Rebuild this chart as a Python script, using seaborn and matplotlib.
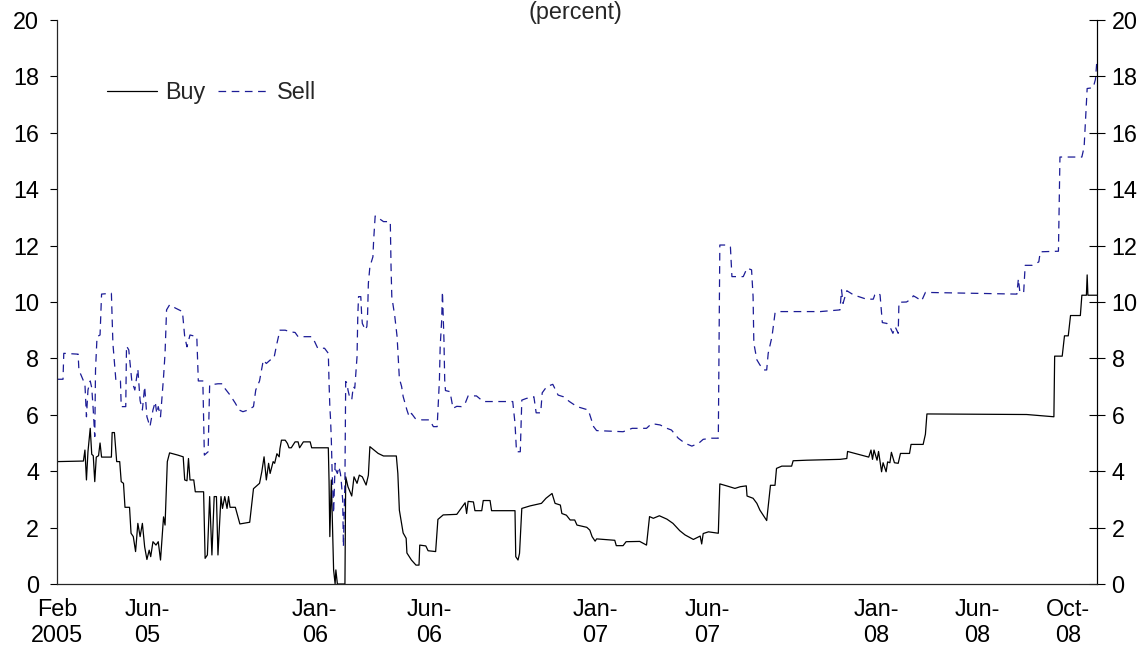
import pandas as pd
import matplotlib.pyplot as plt
import seaborn as sns

# values (percent)
buy_dates = [
    '2005-02-01', '2005-03-08', '2005-03-10', '2005-03-12', '2005-03-14', '2005-03-17', '2005-03-19',
    '2005-03-21', '2005-03-23', '2005-03-25', '2005-03-28', '2005-03-30', '2005-04-01', '2005-04-14',
    '2005-04-15', '2005-04-18', '2005-04-21', '2005-04-25', '2005-04-27', '2005-04-30', '2005-05-02',
    '2005-05-08', '2005-05-10', '2005-05-13', '2005-05-16', '2005-05-19', '2005-05-22', '2005-05-25',
    '2005-05-28', '2005-05-31', '2005-06-03', '2005-06-05', '2005-06-08', '2005-06-12', '2005-06-15',
    '2005-06-18', '2005-06-22', '2005-06-24', '2005-06-27', '2005-06-30', '2005-07-11', '2005-07-18',
    '2005-07-20', '2005-07-23', '2005-07-25', '2005-07-27', '2005-08-01', '2005-08-03', '2005-08-14',
    '2005-08-16', '2005-08-19', '2005-08-22', '2005-08-25', '2005-08-28', '2005-08-31', '2005-09-02',
    '2005-09-06', '2005-09-08', '2005-09-11', '2005-09-14', '2005-09-16', '2005-09-18', '2005-09-25',
    '2005-10-01', '2005-10-14', '2005-10-19', '2005-10-27', '2005-10-30', '2005-11-02', '2005-11-05',
    '2005-11-08', '2005-11-10', '2005-11-14', '2005-11-16', '2005-11-19', '2005-11-22', '2005-11-23',
    '2005-11-25', '2005-11-30', '2005-12-03', '2005-12-05', '2005-12-08', '2005-12-13', '2005-12-17',
    '2005-12-19', '2005-12-24', '2006-01-02', '2006-01-04', '2006-01-26', '2006-01-27', '2006-01-28',
    '2006-01-30', '2006-02-02', '2006-02-04', '2006-02-05', '2006-02-07', '2006-02-17', '2006-02-18',
    '2006-02-21', '2006-02-26', '2006-03-01', '2006-03-05', '2006-03-08', '2006-03-12', '2006-03-17',
    '2006-03-20', '2006-03-22', '2006-04-02', '2006-04-09', '2006-04-26', '2006-04-28', '2006-04-30',
    '2006-05-05', '2006-05-09', '2006-05-10', '2006-05-16', '2006-05-22', '2006-05-26', '2006-05-27',
    '2006-06-04', '2006-06-07', '2006-06-17', '2006-06-20', '2006-06-27', '2006-07-15', '2006-07-19',
    '2006-07-26', '2006-07-28', '2006-07-30', '2006-08-06', '2006-08-08', '2006-08-17', '2006-08-19',
    '2006-08-28', '2006-08-30', '2006-09-30', '2006-10-01', '2006-10-04', '2006-10-06', '2006-10-09',
    '2006-10-20', '2006-11-04', '2006-11-10', '2006-11-18', '2006-11-22', '2006-11-29', '2006-12-01',
    '2006-12-07', '2006-12-12', '2006-12-18', '2006-12-21', '2007-01-03', '2007-01-07', '2007-01-10',
    '2007-01-14', '2007-01-16', '2007-02-09', '2007-02-11', '2007-02-20', '2007-02-24', '2007-03-14',
    '2007-03-23', '2007-03-27', '2007-04-01', '2007-04-09', '2007-04-19', '2007-04-27', '2007-05-06',
    '2007-05-13', '2007-05-24', '2007-06-02', '2007-06-04', '2007-06-06', '2007-06-13', '2007-06-26',
    '2007-06-28', '2007-07-07', '2007-07-18', '2007-07-25', '2007-08-02', '2007-08-03', '2007-08-11',
    '2007-08-16', '2007-08-20', '2007-08-29', '2007-09-03', '2007-09-09', '2007-09-11', '2007-09-18',
    '2007-10-01', '2007-10-03', '2007-10-21', '2007-12-04', '2007-12-13', '2007-12-14', '2008-01-11',
    '2008-01-14', '2008-01-16', '2008-01-18', '2008-01-22', '2008-01-24', '2008-01-28', '2008-01-30',
    '2008-02-03', '2008-02-05', '2008-02-08', '2008-02-10', '2008-02-14', '2008-02-19', '2008-02-22',
    '2008-03-05', '2008-03-07', '2008-03-23', '2008-03-26', '2008-03-28', '2008-08-07', '2008-09-12',
    '2008-09-13', '2008-09-23', '2008-09-26', '2008-10-01', '2008-10-04', '2008-10-17', '2008-10-19',
    '2008-10-25', '2008-10-26', '2008-10-27', '2008-11-08',
]
buy_values = [
    4.34, 4.36, 4.75, 3.69, 4.69, 5.52, 4.60,
    4.55, 3.63, 4.50, 4.55, 5.00, 4.50, 4.50,
    5.37, 5.37, 4.34, 4.34, 3.63, 3.57, 2.72,
    2.72, 1.80, 1.68, 1.15, 2.15, 1.68, 2.15,
    1.32, 0.87, 1.20, 0.97, 1.50, 1.38, 1.50,
    0.85, 2.38, 2.09, 4.34, 4.65, 4.57, 4.51,
    3.69, 3.66, 4.45, 3.69, 3.69, 3.27, 3.27,
    0.91, 1.03, 3.10, 1.03, 3.10, 3.10, 1.03,
    3.10, 2.68, 3.10, 2.68, 3.10, 2.72, 2.72,
    2.13, 2.19, 3.38, 3.57, 3.98, 4.51, 3.69,
    4.28, 3.92, 4.34, 4.28, 4.62, 4.51, 4.80,
    5.10, 5.10, 4.98, 4.83, 4.83, 5.04, 5.04,
    4.83, 5.04, 5.04, 4.83, 4.83, 3.63, 1.68,
    3.69, 0.50, 0.00, 0.50, 0.00, 0.00, 3.80,
    3.45, 3.12, 3.80, 3.57, 3.86, 3.80, 3.51,
    3.86, 4.87, 4.63, 4.54, 4.54, 3.92, 2.62,
    1.81, 1.62, 1.10, 0.85, 0.67, 0.67, 1.38,
    1.35, 1.18, 1.15, 2.29, 2.45, 2.47, 2.62,
    2.88, 2.50, 2.93, 2.91, 2.60, 2.60, 2.96,
    2.96, 2.60, 2.60, 0.97, 0.85, 1.09, 2.68,
    2.77, 2.86, 3.04, 3.21, 2.86, 2.80, 2.50,
    2.44, 2.27, 2.27, 2.09, 2.01, 1.91, 1.68,
    1.52, 1.60, 1.55, 1.36, 1.36, 1.50, 1.51,
    1.38, 2.39, 2.33, 2.42, 2.30, 2.15, 1.89,
    1.74, 1.58, 1.70, 1.42, 1.79, 1.85, 1.80,
    3.55, 3.48, 3.39, 3.45, 3.48, 3.12, 3.04,
    2.86, 2.62, 2.25, 3.50, 3.50, 4.10, 4.18,
    4.18, 4.37, 4.39, 4.42, 4.45, 4.70, 4.50,
    4.75, 4.42, 4.75, 4.39, 4.70, 3.98, 4.30,
    3.98, 4.33, 4.30, 4.67, 4.30, 4.28, 4.63,
    4.63, 4.95, 4.95, 5.31, 6.03, 6.01, 5.93,
    8.08, 8.08, 8.80, 8.80, 9.52, 9.52, 10.24,
    10.24, 10.96, 10.24, 10.24,
]

sell_dates = [
    '2005-02-01', '2005-02-09', '2005-02-10', '2005-03-01', '2005-03-02', '2005-03-08', '2005-03-10',
    '2005-03-12', '2005-03-14', '2005-03-17', '2005-03-19', '2005-03-21', '2005-03-23', '2005-03-24',
    '2005-03-26', '2005-03-30', '2005-04-01', '2005-04-14', '2005-04-16', '2005-04-20', '2005-04-26',
    '2005-04-27', '2005-05-03', '2005-05-04', '2005-05-07', '2005-05-11', '2005-05-15', '2005-05-19',
    '2005-05-22', '2005-05-25', '2005-05-28', '2005-05-31', '2005-06-04', '2005-06-08', '2005-06-11',
    '2005-06-13', '2005-06-15', '2005-06-18', '2005-06-22', '2005-06-24', '2005-06-26', '2005-06-30',
    '2005-07-08', '2005-07-17', '2005-07-20', '2005-07-23', '2005-07-27', '2005-08-05', '2005-08-07',
    '2005-08-13', '2005-08-15', '2005-08-20', '2005-08-22', '2005-09-02', '2005-09-08', '2005-09-11',
    '2005-09-18', '2005-09-25', '2005-09-30', '2005-10-05', '2005-10-12', '2005-10-19', '2005-10-22',
    '2005-10-27', '2005-11-01', '2005-11-05', '2005-11-10', '2005-11-15', '2005-11-19', '2005-11-23',
    '2005-11-30', '2005-12-07', '2005-12-13', '2005-12-17', '2005-12-28', '2006-01-04', '2006-01-08',
    '2006-01-12', '2006-01-21', '2006-01-26', '2006-01-27', '2006-01-28', '2006-01-29', '2006-01-30',
    '2006-01-31', '2006-02-01', '2006-02-02', '2006-02-04', '2006-02-05', '2006-02-07', '2006-02-09',
    '2006-02-11', '2006-02-12', '2006-02-14', '2006-02-15', '2006-02-17', '2006-02-18', '2006-02-20',
    '2006-02-21', '2006-02-23', '2006-02-26', '2006-02-28', '2006-03-02', '2006-03-05', '2006-03-06',
    '2006-03-07', '2006-03-10', '2006-03-11', '2006-03-12', '2006-03-16', '2006-03-18', '2006-03-19',
    '2006-03-20', '2006-03-22', '2006-03-26', '2006-03-27', '2006-03-29', '2006-03-31', '2006-04-09',
    '2006-04-18', '2006-04-19', '2006-04-20', '2006-04-24', '2006-04-27', '2006-04-30', '2006-05-03',
    '2006-05-05', '2006-05-10', '2006-05-13', '2006-05-16', '2006-05-21', '2006-05-30', '2006-06-09',
    '2006-06-14', '2006-06-19', '2006-06-22', '2006-06-23', '2006-06-25', '2006-06-26', '2006-06-28',
    '2006-06-29', '2006-06-30', '2006-07-06', '2006-07-08', '2006-07-10', '2006-07-15', '2006-07-21',
    '2006-07-26', '2006-07-30', '2006-08-10', '2006-08-19', '2006-09-27', '2006-09-30', '2006-10-02',
    '2006-10-07', '2006-10-09', '2006-10-15', '2006-10-25', '2006-10-28', '2006-11-03', '2006-11-05',
    '2006-11-11', '2006-11-19', '2006-11-26', '2006-12-03', '2006-12-11', '2006-12-21', '2007-01-05',
    '2007-01-12', '2007-01-16', '2007-02-03', '2007-02-20', '2007-03-04', '2007-03-23', '2007-03-29',
    '2007-04-03', '2007-04-10', '2007-04-19', '2007-04-25', '2007-05-04', '2007-05-13', '2007-05-22',
    '2007-05-31', '2007-06-06', '2007-06-17', '2007-06-26', '2007-06-28', '2007-07-06', '2007-07-12',
    '2007-07-14', '2007-07-29', '2007-08-03', '2007-08-09', '2007-08-11', '2007-08-12', '2007-08-16',
    '2007-08-20', '2007-08-25', '2007-08-29', '2007-08-31', '2007-09-05', '2007-09-09', '2007-09-12',
    '2007-10-12', '2007-11-08', '2007-12-04', '2007-12-06', '2007-12-08', '2007-12-13', '2007-12-22',
    '2008-01-08', '2008-01-17', '2008-01-19', '2008-01-24', '2008-01-26', '2008-01-29', '2008-02-04',
    '2008-02-08', '2008-02-12', '2008-02-15', '2008-02-19', '2008-02-20', '2008-03-01', '2008-03-08',
    '2008-03-10', '2008-03-14', '2008-03-21', '2008-03-26', '2008-07-25', '2008-07-27', '2008-07-29',
    '2008-08-03', '2008-08-05', '2008-08-14', '2008-08-23', '2008-08-25', '2008-09-18', '2008-09-20',
    '2008-10-19', '2008-10-22', '2008-10-26', '2008-11-03', '2008-11-06', '2008-11-08',
]
sell_values = [
    7.26, 7.26, 8.18, 8.15, 7.59, 7.20, 7.08,
    5.93, 6.88, 7.20, 6.96, 6.17, 5.23, 7.59,
    8.77, 8.83, 10.28, 10.31, 8.53, 7.20, 7.20,
    6.29, 6.29, 8.44, 8.30, 7.20, 6.88, 7.62,
    6.50, 6.17, 7.00, 5.93, 5.58, 6.17, 6.46,
    6.05, 6.29, 5.93, 7.34, 8.18, 9.72, 9.90,
    9.78, 9.66, 8.77, 8.41, 8.83, 8.77, 7.20,
    7.20, 4.57, 4.69, 7.06, 7.10, 7.10, 6.94,
    6.70, 6.41, 6.17, 6.11, 6.17, 6.29, 6.88,
    7.20, 7.94, 7.82, 7.94, 8.00, 8.53, 9.00,
    9.00, 8.94, 8.92, 8.77, 8.77, 8.77, 8.59,
    8.36, 8.36, 8.18, 7.12, 6.30, 5.82, 5.10,
    4.04, 3.33, 2.51, 4.28, 4.04, 3.92, 4.16,
    3.92, 3.69, 2.98, 1.32, 3.69, 7.18, 7.12,
    6.88, 6.65, 6.53, 7.00, 6.94, 8.06, 9.50,
    10.19, 10.19, 9.60, 9.24, 9.01, 9.13, 9.60,
    10.66, 11.25, 11.60, 12.20, 13.05, 13.02, 12.85,
    12.85, 11.25, 10.19, 9.48, 8.77, 7.29, 7.00,
    6.65, 6.17, 5.93, 6.05, 5.87, 5.82, 5.82,
    5.58, 5.58, 7.23, 8.41, 9.36, 10.37, 8.65,
    7.23, 6.86, 6.82, 6.53, 6.23, 6.30, 6.29,
    6.40, 6.67, 6.67, 6.47, 6.47, 5.70, 4.69,
    4.69, 6.52, 6.58, 6.64, 6.07, 6.07, 6.78,
    7.00, 7.08, 6.70, 6.64, 6.47, 6.29, 6.17,
    5.58, 5.44, 5.42, 5.40, 5.52, 5.52, 5.67,
    5.67, 5.64, 5.52, 5.46, 5.17, 4.99, 4.89,
    4.99, 5.13, 5.17, 5.17, 12.02, 12.02, 11.96,
    10.90, 10.90, 11.20, 11.14, 10.19, 8.54, 7.95,
    7.77, 7.59, 7.59, 8.18, 8.77, 9.60, 9.66,
    9.66, 9.66, 9.72, 10.43, 9.95, 10.40, 10.25,
    10.10, 10.10, 10.25, 10.32, 10.25, 9.27, 9.24,
    9.12, 8.89, 9.12, 8.89, 9.99, 10.00, 10.12,
    10.22, 10.16, 10.04, 10.34, 10.28, 10.82, 10.34,
    10.34, 11.30, 11.30, 11.42, 11.78, 11.80, 15.14,
    15.14, 15.50, 17.57, 17.60, 17.90, 18.60,
]

tick_dates = ['2005-02-01', '2005-06-01', '2006-01-08', '2006-06-09', '2007-01-14',
              '2007-06-11', '2008-01-21', '2008-06-03', '2008-10-01']
tick_labels = ['Feb\n2005', 'Jun-\n05', 'Jan-\n06', 'Jun-\n06', 'Jan-\n07',
               'Jun-\n07', 'Jan-\n08', 'Jun-\n08', 'Oct-\n08']
y_ticks = [0, 2, 4, 6, 8, 10, 12, 14, 16, 18, 20]

sns.set_style('white')
plt.rcParams['font.family'] = ['Liberation Sans', 'DejaVu Sans']
plt.rcParams['lines.scale_dashes'] = False

buy = pd.DataFrame({'date': pd.to_datetime(buy_dates), 'value': buy_values})
sell = pd.DataFrame({'date': pd.to_datetime(sell_dates), 'value': sell_values})

fs = 16.8
fig = plt.figure(figsize=(11.44, 6.57), dpi=100)
ax = fig.add_axes([0.0498, 0.1111, 0.9091, 0.8585])

sns.lineplot(data=buy, x='date', y='value', ax=ax, color='black', linewidth=0.9,
             label='Buy', estimator=None, sort=False)
sns.lineplot(data=sell, x='date', y='value', ax=ax, color='#1c1c96', linewidth=0.9,
             linestyle=(0, (5.5, 4)), label='Sell', estimator=None, sort=False)

ax.set_xlim(pd.Timestamp('2005-02-01'), pd.Timestamp('2008-11-08'))
ax.set_ylim(0, 20)
ax.set_yticks(y_ticks)
ax.set_xticks(pd.to_datetime(tick_dates))
ax.set_xticklabels(tick_labels)
ax.set_xlabel('')
ax.set_ylabel('')
ax.tick_params(axis='x', length=0, pad=10, labelsize=fs, colors='black')
ax.tick_params(axis='y', direction='out', length=5, width=0.8, pad=8, labelsize=fs, colors='black')
ax.spines['top'].set_visible(False)
for side in ['left', 'bottom', 'right']:
    ax.spines[side].set_color('black')
    ax.spines[side].set_linewidth(0.8)

ax2 = ax.twinx()
ax2.set_ylim(0, 20)
ax2.set_yticks(y_ticks)
ax2.tick_params(axis='y', direction='inout', length=11, width=0.8, pad=5, labelsize=fs, colors='black')
ax2.spines['top'].set_visible(False)
ax2.spines['right'].set_color('black')
ax2.spines['right'].set_linewidth(0.8)

ax.legend(loc='center left', bbox_to_anchor=(0.048, 0.872), ncol=2, frameon=False,
          fontsize=fs, handlelength=2.15, handletextpad=0.35, columnspacing=0.55,
          borderpad=0, borderaxespad=0)

# the title sits right at the top edge, as in the reference
fig.text(0.503, 0.999, '(percent)', ha='center', va='top', fontsize=fs)

fig.savefig('out.png', dpi=100)
